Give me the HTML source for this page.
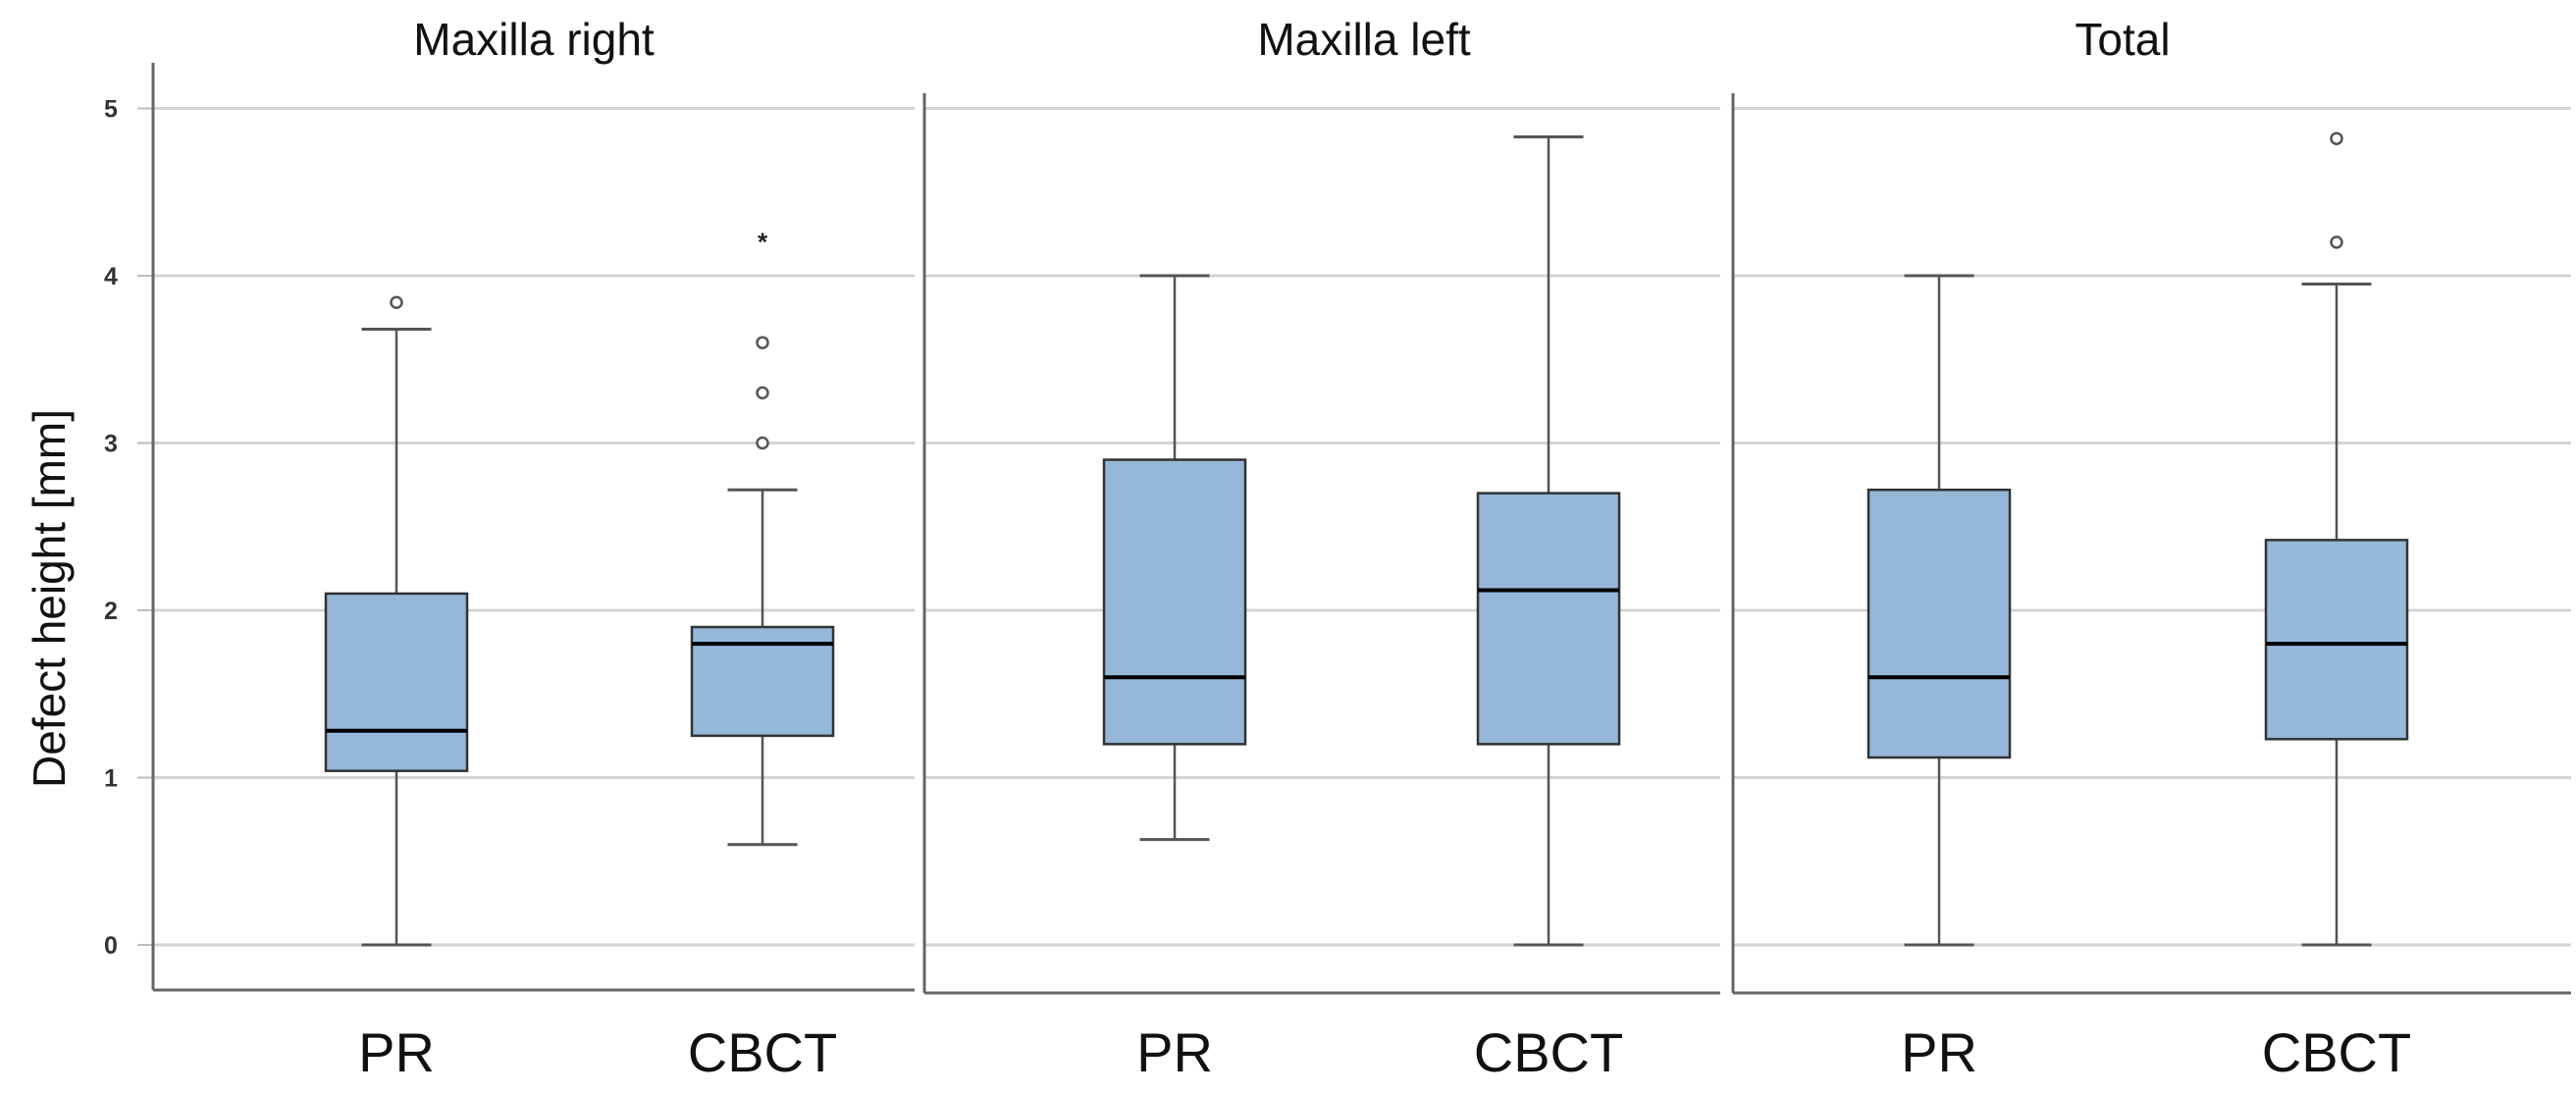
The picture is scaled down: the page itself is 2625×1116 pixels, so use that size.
<!DOCTYPE html>
<html><head><meta charset="utf-8"><style>
html,body{margin:0;padding:0;background:#fff}
svg{display:block}
text{font-family:"Liberation Sans",sans-serif}
</style></head><body>
<svg id="chart" width="2625" height="1116" viewBox="0 0 2625 1116">
<text x="50" y="610" transform="rotate(-90 50 610)" text-anchor="middle" dominant-baseline="central" font-size="46" fill="#111">Defect height [mm]</text>
</svg>
<script>
const panelTitles=["Maxilla right","Maxilla left","Total"];
const categories=["PR","CBCT"];
const yTicks=[0,1,2,3,4,5];
const q1Vals=[[1.04,1.25],[1.2,1.2],[1.12,1.23]];
const medianVals=[[1.28,1.8],[1.6,2.12],[1.6,1.8]];
const q3Vals=[[2.10,1.9],[2.9,2.7],[2.72,2.42]];
const whiskerLow=[[0,0.6],[0.63,0],[0,0]];
const whiskerHigh=[[3.68,2.72],[4.0,4.83],[4.0,3.95]];
const outlierCircles=[[[3.84],[3.0,3.3,3.6]],[[],[]],[[],[4.2,4.82]]];
const outlierStars=[[[],[4.22]],[[],[]],[[],[]]];

const svg=document.getElementById('chart');
const NS='http://www.w3.org/2000/svg';
function mk(tag,attrs,parent){const e=document.createElementNS(NS,tag);for(const k in attrs)e.setAttribute(k,attrs[k]);(parent||svg).appendChild(e);return e;}
const y=v=>963-v*170.5;
const panels=[{x0:156,x1:932,top:64,bot:1009,tc:544},{x0:942,x1:1753,top:95,bot:1012,tc:1390},{x0:1766,x1:2620,top:95,bot:1012,tc:2163}];
const centers=[[404,777],[1197,1578],[1976,2381]];
const bw=144,cap=71;

// y tick labels
yTicks.forEach(t=>{
  const tl=mk('text',{x:113,y:y(t)+9,'text-anchor':'middle','font-size':25,'font-weight':'bold',fill:'#333'});
  
  
  tl.textContent=t;
  const tk=mk('line',{x1:140,x2:156,y1:y(t),y2:y(t),stroke:'#bbb','stroke-width':2});
  
  
});

panels.forEach((p,pi)=>{
  const g=mk('g',{});
  
  
  yTicks.forEach(t=>{
    const gl=mk('line',{x1:p.x0,x2:p.x1,y1:y(t),y2:y(t),stroke:'#d4d4d4','stroke-width':3},g);
    
    
  });
  const ax=mk('line',{x1:p.x0,x2:p.x0,y1:p.top,y2:p.bot,stroke:'#666','stroke-width':3},g);
  
  
  const bx=mk('line',{x1:p.x0,x2:p.x1,y1:p.bot,y2:p.bot,stroke:'#666','stroke-width':3},g);
  
  
  const tt=mk('text',{x:p.tc,y:56,'text-anchor':'middle','font-size':46,fill:'#111'},g);
  
  
  tt.textContent=panelTitles[pi];
  categories.forEach((c,ci)=>{
    const cx=centers[pi][ci];
    const lab=mk('text',{x:cx,y:1092,'text-anchor':'middle','font-size':56,fill:'#111'},g);
    
    
    lab.textContent=c;
    const w=mk('line',{x1:cx,x2:cx,y1:y(whiskerLow[pi][ci]),y2:y(whiskerHigh[pi][ci]),stroke:'#555','stroke-width':2.5},g);
    
    
    [whiskerLow[pi][ci],whiskerHigh[pi][ci]].forEach(v=>{
      const cp=mk('line',{x1:cx-cap/2,x2:cx+cap/2,y1:y(v),y2:y(v),stroke:'#555','stroke-width':3},g);
      
      
    });
    const b=mk('rect',{x:cx-bw/2,y:y(q3Vals[pi][ci]),width:bw,height:y(q1Vals[pi][ci])-y(q3Vals[pi][ci]),fill:'#95b8d9',stroke:'#333','stroke-width':2.5},g);
    
    
    const m=mk('line',{x1:cx-bw/2,x2:cx+bw/2,y1:y(medianVals[pi][ci]),y2:y(medianVals[pi][ci]),stroke:'#000','stroke-width':4},g);
    
    
    outlierCircles[pi][ci].forEach(v=>{
      const o=mk('circle',{cx:cx,cy:y(v),r:5.5,fill:'#fff',stroke:'#555','stroke-width':2.5},g);
      
      
    });
    outlierStars[pi][ci].forEach(v=>{
      const s=mk('text',{x:cx,y:y(v)+12,'text-anchor':'middle','font-size':26,'font-weight':'bold',fill:'#222'},g);
      
      
      s.textContent='*';
    });
  });
});
</script>
</body></html>
